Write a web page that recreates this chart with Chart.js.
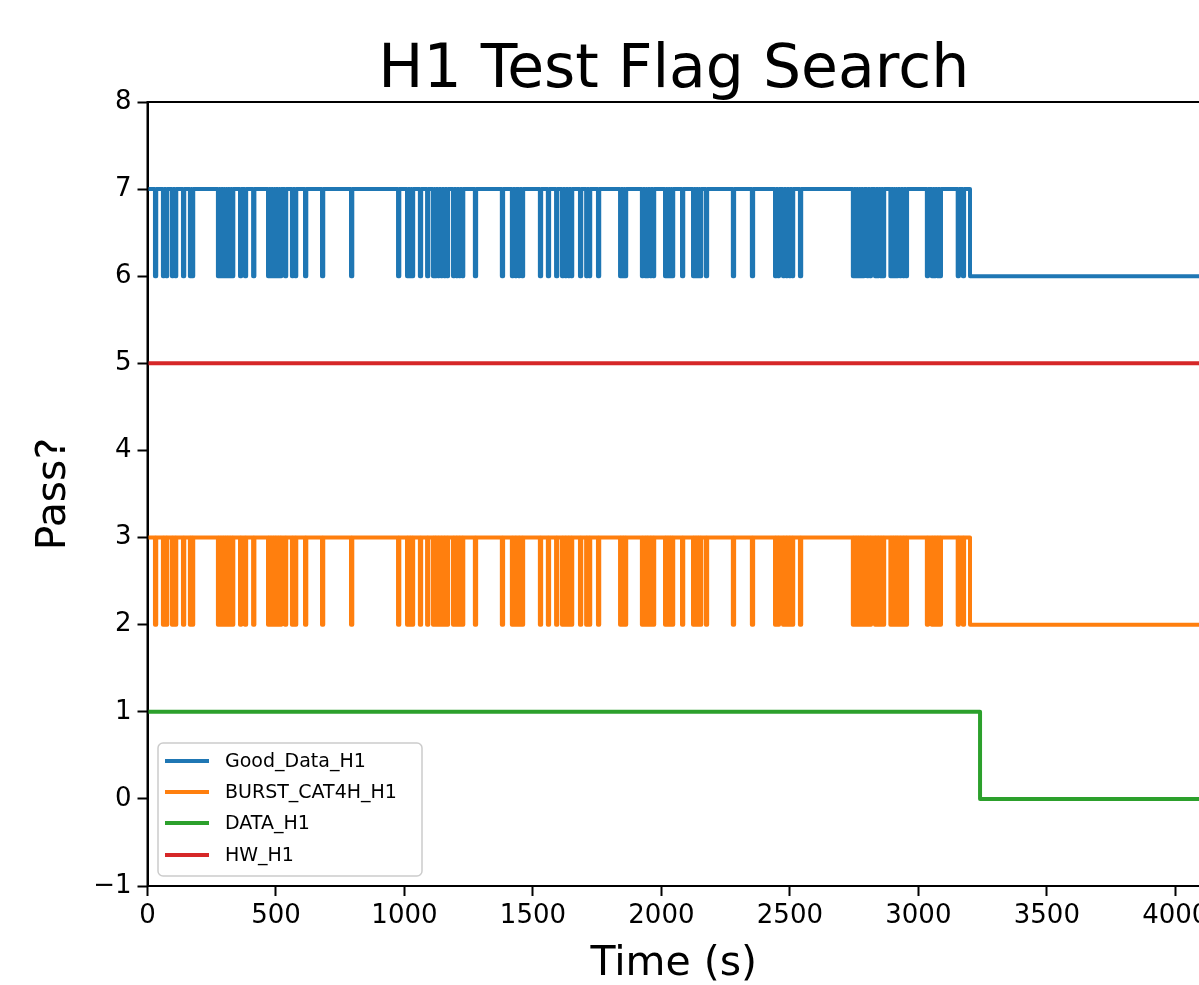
<!DOCTYPE html>
<html>
<head>
<meta charset="utf-8">
<script src="https://cdn.jsdelivr.net/npm/chart.js@4"></script>
<style>
  html, body { margin: 0; padding: 0; background: #fff; overflow: hidden; }
  #wrap { width: 1260px; height: 985px; }
</style>
</head>
<body>
<div id="wrap"><canvas id="flagChart" width="1260" height="985"></canvas></div>
<script>
// ---- data ----
const seriesNames = ['Good_Data_H1', 'BURST_CAT4H_H1', 'DATA_H1', 'HW_H1'];
const xTickValues = [0, 500, 1000, 1500, 2000, 2500, 3000, 3500, 4000];
const runLength = 4096;

// start times (s) of the short drop-outs seen in Good_Data_H1 / BURST_CAT4H_H1
const goodDropTimes = [
  29, 60, 72, 95, 107, 138, 165, 173,
  274, 283, 292, 301, 310, 319, 329,
  360, 379, 411,
  469, 478, 488, 497, 507, 516,
  535, 562, 574, 613, 679, 792,
  975, 1010, 1020, 1029, 1060, 1088, 1111, 1119,
  1130, 1142, 1154, 1165,
  1189, 1201, 1212, 1224,
  1274,
  1379, 1418, 1431, 1444, 1457, 1527, 1558, 1590,
  1613, 1625, 1637, 1648, 1683, 1707, 1718, 1753,
  1839, 1849, 1858, 1924, 1936, 1944, 1956, 1967,
  2014, 2023, 2032, 2041, 2080, 2123, 2132, 2141, 2150, 2173,
  2278, 2352, 2442, 2453, 2473, 2485, 2497, 2508, 2539,
  2745, 2755, 2764, 2774, 2784, 2800, 2811, 2831, 2841, 2852, 2862,
  2891, 2900, 2909, 2916, 2928, 2940, 2951,
  3033, 3052, 3062, 3073, 3083, 3153, 3173
];
const burstDropTimes = goodDropTimes; // same segments in the picture
const dropLength = 5;

const goodLevels = [7, 6];
const burstLevels = [3, 2];
const dataLevels = [1, 0];
const hwLevels = [5, 5];

const goodEndTime = 3201;   // flag falls for good
const burstEndTime = 3201;
const dataEndTime = 3240;
const hwEndTime = runLength;

const seriesColors = ['#1f77b4', '#ff7f0e', '#2ca02c', '#d62728'];

// build stepped points from levels + drop times
function buildFlag(levels, drops, endTime) {
  var hi = levels[0], lo = levels[1];
  var pts = [{x: 0, y: hi}];
  drops.forEach(function (t) {
    pts.push({x: t, y: lo});
    pts.push({x: t + dropLength, y: hi});
  });
  if (endTime < runLength) pts.push({x: endTime, y: lo});
  pts.push({x: runLength, y: lo});
  return pts;
}

var seriesData = [
  buildFlag(goodLevels, goodDropTimes, goodEndTime),
  buildFlag(burstLevels, burstDropTimes, burstEndTime),
  buildFlag(dataLevels, [], dataEndTime),
  buildFlag(hwLevels, [], hwEndTime)
];

Chart.defaults.font.family = "'DejaVu Sans', sans-serif";
Chart.defaults.color = '#000';

// title, frame and inside legend (matplotlib style)
const framePlugin = {
  id: 'frame',
  afterDatasetsDraw: function (chart) {
    var ctx = chart.ctx, ca = chart.chartArea;
    ctx.save();
    ctx.strokeStyle = '#000';
    ctx.lineWidth = 2;
    ctx.strokeRect(ca.left, ca.top, ca.right - ca.left, ca.bottom - ca.top);

    // legend box
    var bx = ca.left + 10.5, by = ca.bottom - 10 - 133, bw = 264, bh = 133;
    ctx.beginPath();
    ctx.roundRect(bx, by, bw, bh, 5);
    ctx.fillStyle = 'rgba(255,255,255,0.8)';
    ctx.fill();
    ctx.strokeStyle = '#cccccc';
    ctx.lineWidth = 1.5;
    ctx.stroke();
    var rows = [18, 49, 80, 112];
    ctx.font = "19px 'DejaVu Sans'";
    ctx.textBaseline = 'middle';
    chart.data.datasets.forEach(function (ds, i) {
      var y = by + rows[i];
      ctx.beginPath();
      ctx.moveTo(bx + 7, y);
      ctx.lineTo(bx + 51, y);
      ctx.strokeStyle = ds.borderColor;
      ctx.lineWidth = 4;
      ctx.stroke();
      ctx.fillStyle = '#000';
      ctx.fillText(ds.label, bx + 67, y + 1);
    });

    // title
    ctx.font = "60px 'DejaVu Sans'";
    ctx.textAlign = 'center';
    ctx.textBaseline = 'alphabetic';
    ctx.fillStyle = '#000';
    ctx.fillText('H1 Test Flag Search', (ca.left + ca.right) / 2, 87);
    ctx.restore();
  }
};

const ctx = document.getElementById('flagChart');
const myChart = new Chart(ctx, {
  type: 'line',
  data: {
    datasets: seriesNames.map(function (name, i) {
      return {
        label: name,
        data: seriesData[i],
        borderColor: seriesColors[i],
        backgroundColor: seriesColors[i],
        borderWidth: 4,
        stepped: true,
        pointRadius: 0,
        fill: false,
        borderJoinStyle: 'round',
        borderCapStyle: 'round'
      };
    })
  },
  options: {
    responsive: false,
    animation: false,
    events: [],
    layout: { padding: { top: 102, right: 60, left: 0, bottom: 0 } },
    plugins: {
      legend: { display: false },
      title: { display: false },
      tooltip: { enabled: false }
    },
    scales: {
      x: {
        type: 'linear',
        min: 0,
        max: runLength,
        afterBuildTicks: function (s) {
          s.ticks = xTickValues.map(function (v) { return {value: v}; });
        },
        afterFit: function (s) { s.height = 99; },
        ticks: {
          font: { size: 26 }, padding: 5, maxRotation: 0, autoSkip: false,
          callback: function (v) { return String(v); }
        },
        grid: { drawOnChartArea: false, tickLength: 10, tickColor: '#000', tickWidth: 2 },
        border: { display: true, color: '#000', width: 2 },
        title: { display: true, text: 'Time (s)', font: { size: 41, lineHeight: 1 }, padding: { top: 0, bottom: 0 } }
      },
      y: {
        min: -1,
        max: 8,
        afterFit: function (s) { s.width = 147.5; },
        ticks: {
          stepSize: 1,
          font: { size: 26 },
          padding: 6,
          callback: function (v) { return String(v).replace('-', '\u2212'); }
        },
        grid: { drawOnChartArea: false, tickLength: 10, tickColor: '#000', tickWidth: 2 },
        border: { display: true, color: '#000', width: 2 },
        title: { display: true, text: 'Pass?', font: { size: 41, lineHeight: 1 }, padding: { top: 34, bottom: 0 } }
      }
    }
  },
  plugins: [framePlugin]
});
</script>
</body>
</html>
